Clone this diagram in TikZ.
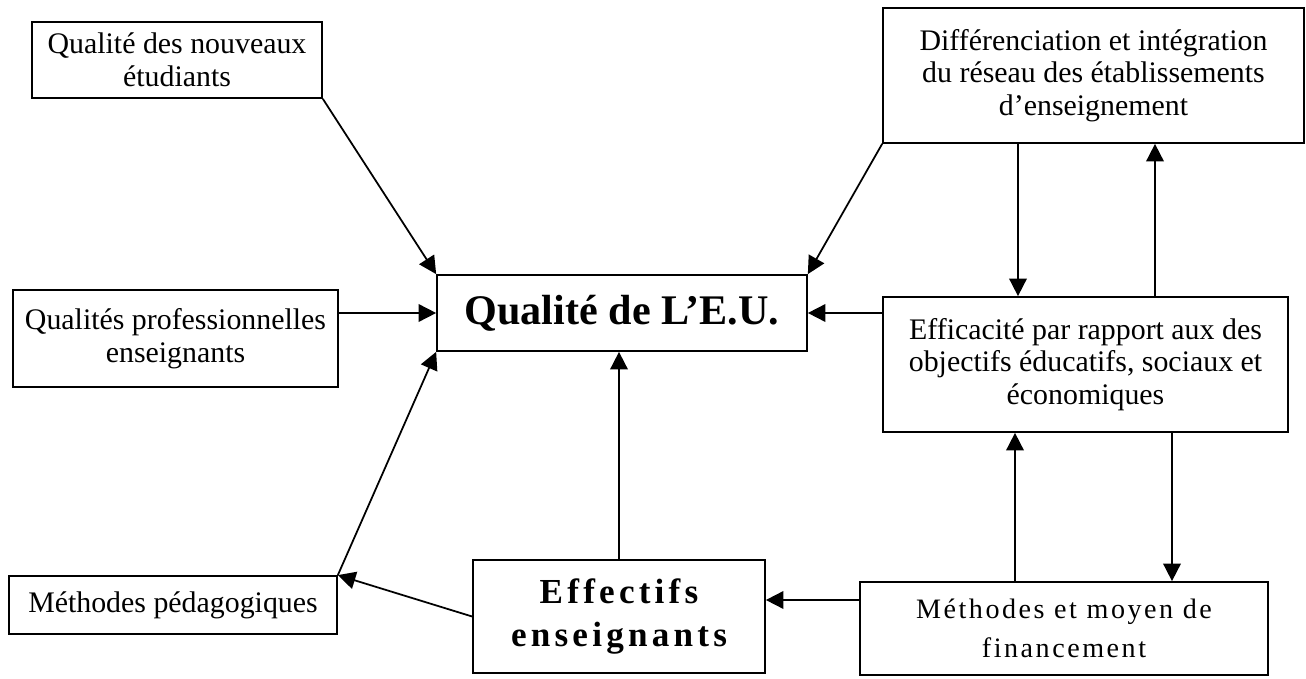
\documentclass[tikz,border=0pt]{standalone}
\usepackage{fontspec}
\setmainfont{Liberation Serif}
\newfontfamily\espacea[LetterSpace=12]{Liberation Serif}
\newfontfamily\espaceb[LetterSpace=9]{Liberation Serif}
\usetikzlibrary{arrows.meta}

\begin{document}
\begin{tikzpicture}[x=0.02cm,y=-0.02cm,
  boite/.style={draw,line width=1pt,inner sep=0pt,align=center,
    font=\fontsize{17}{18.5}\selectfont},
  fleche/.style={line width=1pt,-{Triangle[length=10pt,width=10pt]}}]
  \useasboundingbox (0,0) rectangle (1306,679);
  % boîtes de gauche
  \node[boite,minimum width=5.8cm,minimum height=1.52cm] (nouv) at (177,60)
    {Qualité des nouveaux\\étudiants};
  \node[boite,minimum width=6.5cm,minimum height=1.94cm] (prof) at (175.5,338.5)
    {Qualités professionnelles\\enseignants};
  \node[boite,minimum width=6.56cm,minimum height=1.16cm] (peda) at (173,605)
    {Méthodes pédagogiques};
  % boîte centrale
  \node[boite,minimum width=7.4cm,minimum height=1.52cm,
    font=\fontsize{24}{28}\selectfont\bfseries] (qeu) at (622,313)
    {Qualité de L’E.U.};
  \node[boite,minimum width=5.84cm,minimum height=2.26cm,
    font=\fontsize{20}{24}\selectfont\espacea\bfseries] (eff) at (619,616.5)
    {Effectifs\\enseignants};
  % boîtes de droite
  \node[boite,minimum width=8.42cm,minimum height=2.7cm] (diff) at (1093.5,75.5)
    {Différenciation et intégration\\du réseau des établissements\\d’enseignement};
  \node[boite,minimum width=8.1cm,minimum height=2.7cm] (effi) at (1085.5,364.5)
    {Efficacité par rapport aux des\\objectifs éducatifs, sociaux et\\économiques};
  \node[boite,minimum width=8.16cm,minimum height=1.86cm,
    font=\fontsize{16}{22}\selectfont\espaceb] (fin) at (1064,628.5)
    {Méthodes et moyen de\\financement};
  % repères des flèches verticales
  \coordinate (xa) at (1018,0);
  \coordinate (xb) at (1155,0);
  \coordinate (xc) at (1015,0);
  \coordinate (xd) at (1172,0);
  \coordinate (yf) at (0,600);
  % flèches vers la qualité
  \draw[fleche] (nouv.south east) -- (qeu.north west);
  \draw[fleche] (diff.south west) -- (qeu.north east);
  \draw[fleche] (qeu.west -| prof.east) -- (qeu.west);
  \draw[fleche] (peda.north east) -- (qeu.south west);
  \draw[fleche] (eff.north) -- (eff.north |- qeu.south);
  \draw[fleche] (qeu.east -| effi.west) -- (qeu.east);
  % autres flèches
  \draw[fleche] (eff.west) -- (peda.north east);
  \draw[fleche] (fin.west |- yf) -- (eff.east |- yf);
  \draw[fleche] (diff.south -| xa) -- (effi.north -| xa);
  \draw[fleche] (effi.north -| xb) -- (diff.south -| xb);
  \draw[fleche] (fin.north -| xc) -- (effi.south -| xc);
  \draw[fleche] (effi.south -| xd) -- (fin.north -| xd);
\end{tikzpicture}
\end{document}
